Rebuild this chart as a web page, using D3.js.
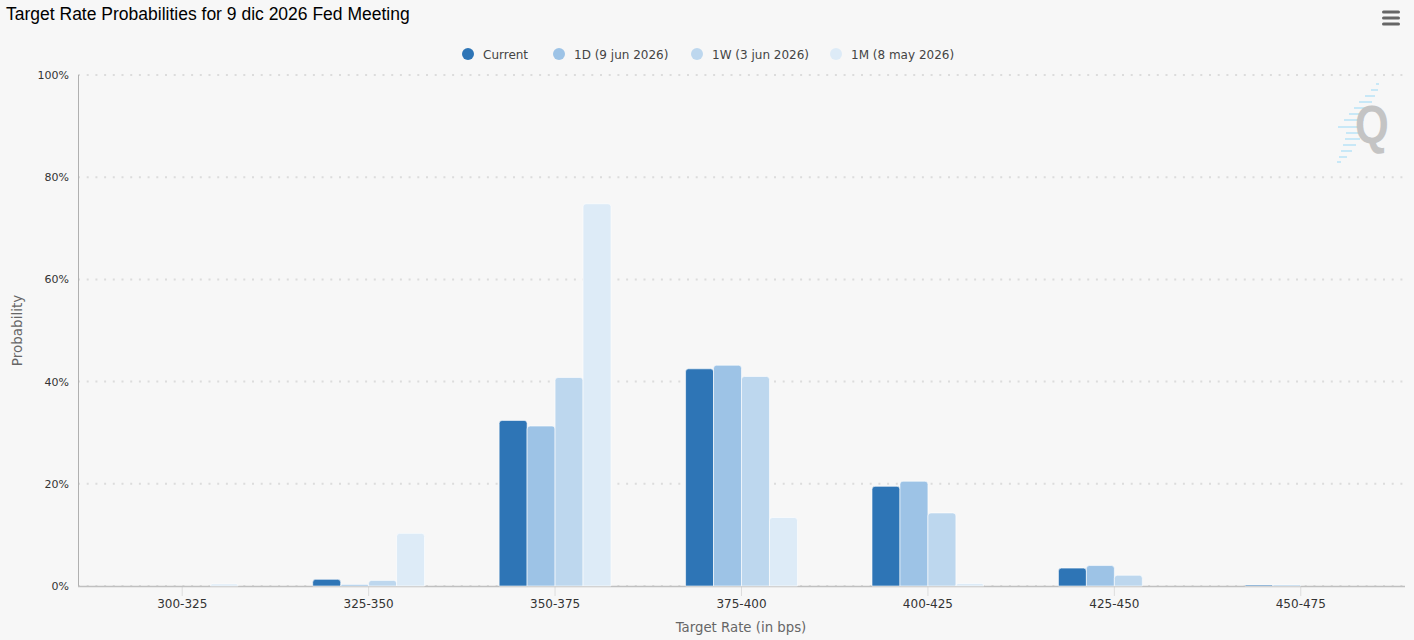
<!DOCTYPE html>
<html>
<head>
<meta charset="utf-8">
<script src="https://cdn.jsdelivr.net/npm/d3@7/dist/d3.min.js"></script>
<style>
  html, body { margin: 0; padding: 0; background: #f7f7f7; }
  svg { display: block; }
</style>
</head>
<body>
<svg id="chart" width="1414" height="640"></svg>
<script>
// ---- Data ----
const categories = ["300-325", "325-350", "350-375", "375-400", "400-425", "425-450", "450-475"];
const seriesNames = ["Current", "1D (9 jun 2026)", "1W (3 jun 2026)", "1M (8 may 2026)"];
const seriesColors = ["#2e75b6", "#9dc3e6", "#bdd7ee", "#ddebf7"];
const currentValues = [0, 1.3, 32.4, 42.5, 19.5, 3.5, 0.2];
const oneDayValues = [0, 0.3, 31.3, 43.2, 20.5, 4.0, 0.2];
const oneWeekValues = [0, 1.1, 40.8, 41.0, 14.3, 2.1, 0];
const oneMonthValues = [0.4, 10.3, 74.8, 13.4, 0.5, 0, 0];
const yTicks = [0, 20, 40, 60, 80, 100];
const titleText = "Target Rate Probabilities for 9 dic 2026 Fed Meeting";
const xTitle = "Target Rate (in bps)";
const yTitle = "Probability";

const seriesValues = [currentValues, oneDayValues, oneWeekValues, oneMonthValues];

// ---- Layout ----
const svg = d3.select("#chart");
const plotLeft = 78, plotRight = 1405, plotTop = 75, plotBottom = 586;
const font = "'DejaVu Sans', 'Open Sans', sans-serif";

svg.append("rect").attr("width", 1414).attr("height", 640).attr("fill", "#f7f7f7");

const x = d3.scaleBand().domain(categories).range([plotLeft + 11, plotRight - 11]).padding(0);
const y = d3.scaleLinear().domain([0, 100]).range([plotBottom, plotTop]);
const step = x.bandwidth();
const xs = d3.scaleBand().domain(seriesNames).range([0, step * 0.6]).padding(0);

// Title
svg.append("text").attr("x", 6).attr("y", 20)
  .attr("font-family", "'Liberation Sans', Arial, sans-serif").attr("font-size", 17.5)
  .attr("fill", "#000").text(titleText);

// Hamburger menu
[0, 6, 12].forEach(d => {
  svg.append("rect").attr("x", 1382).attr("y", 10.5 + d).attr("width", 18).attr("height", 3)
    .attr("rx", 1.5).attr("fill", "#666");
});

// Legend
const legendX = [468, 559, 697, 836];
seriesNames.forEach((name, i) => {
  svg.append("circle").attr("cx", legendX[i]).attr("cy", 54).attr("r", 6).attr("fill", seriesColors[i]);
  svg.append("text").attr("x", legendX[i] + 15).attr("y", 58.5)
    .attr("font-family", font).attr("font-size", 12).attr("fill", "#444").text(name);
});

// Gridlines
const grid = svg.append("g");
grid.selectAll("line").data(yTicks).join("line")
  .attr("x1", plotLeft).attr("x2", plotRight)
  .attr("y1", d => y(d)).attr("y2", d => y(d))
  .attr("stroke", "#dcdcdc").attr("stroke-width", 2)
  .attr("stroke-dasharray", "2,6.7");

// Y axis line
svg.append("line").attr("x1", plotLeft + 0.5).attr("x2", plotLeft + 0.5)
  .attr("y1", plotTop).attr("y2", plotBottom).attr("stroke", "#b0b0b0").attr("stroke-width", 1);

// Y axis labels
const yAxis = d3.axisLeft(y).tickValues(yTicks).tickFormat(d => d + "%").tickSize(0).tickPadding(0);
const yg = svg.append("g").attr("transform", `translate(${plotLeft - 9},0)`).call(yAxis);
yg.select(".domain").remove();
yg.selectAll("text").attr("font-family", font).attr("font-size", 11).attr("fill", "#333");

// Y title
svg.append("text").attr("transform", `translate(22,${(plotTop + plotBottom) / 2 + 0}) rotate(-90)`)
  .attr("text-anchor", "middle").attr("font-family", font).attr("font-size", 13.5)
  .attr("fill", "#666").text(yTitle);

// X axis ticks and labels
const xAxis = d3.axisBottom(x).tickSize(0).tickPadding(0);
const xg = svg.append("g").attr("transform", `translate(0,${plotBottom})`).call(xAxis);
xg.select(".domain").remove();
xg.selectAll(".tick").append("line").attr("y1", 0).attr("y2", 10).attr("stroke", "#ddd").attr("stroke-width", 1);
xg.selectAll("text").attr("y", 13).attr("dy", "0.71em")
  .attr("font-family", font).attr("font-size", 12).attr("fill", "#333");

// X title
svg.append("text").attr("x", (x.range()[0] + x.range()[1]) / 2 - 0.5).attr("y", 632)
  .attr("text-anchor", "middle").attr("font-family", font).attr("font-size", 13.3)
  .attr("fill", "#666").text(xTitle);

// Q logo watermark (decoration)
const logoLines = [
  [84, 1376, 1379], [90, 1371, 1378], [96, 1365, 1375], [102, 1359, 1372],
  [108, 1354, 1369], [114, 1349, 1366], [120, 1344, 1364], [127, 1338, 1362],
  [133, 1346, 1362], [139, 1345, 1360], [145, 1343, 1356], [151, 1341, 1352],
  [157, 1339, 1347], [162, 1337, 1341]
];
const logo = svg.append("g");
logo.selectAll("line").data(logoLines).join("line")
  .attr("x1", d => d[1]).attr("x2", d => d[2]).attr("y1", d => d[0]).attr("y2", d => d[0])
  .attr("stroke", "#c2e6f6").attr("stroke-width", 1.8);
logo.append("text").attr("transform", "translate(1355,143) scale(0.82,1)")
  .attr("font-family", "'Liberation Sans', Arial, sans-serif")
  .attr("font-weight", "bold").attr("font-size", 53).attr("fill", "#c4c4c4").text("Q");

// X axis line
svg.append("line").attr("x1", plotLeft).attr("x2", plotRight)
  .attr("y1", plotBottom + 0.5).attr("y2", plotBottom + 0.5)
  .attr("stroke", "#c0c0c0").attr("stroke-width", 1.5);

// Bars
function barPath(x0, y0, w, h, r) {
  r = Math.min(r, h, w / 2);
  if (h <= 0) return "";
  return `M${x0},${y0 + h} L${x0},${y0 + r} Q${x0},${y0} ${x0 + r},${y0} L${x0 + w - r},${y0} Q${x0 + w},${y0} ${x0 + w},${y0 + r} L${x0 + w},${y0 + h} Z`;
}
const bars = svg.append("g");
seriesNames.forEach((name, si) => {
  bars.append("g").selectAll("path").data(seriesValues[si].map((v, ci) => ({ v, c: categories[ci] })))
    .join("path")
    .attr("d", d => {
      const x0 = x(d.c) + step * 0.2 + xs(name);
      const top = y(d.v);
      return barPath(x0, top, xs.bandwidth(), y(0) - top, 3);
    })
    .attr("fill", seriesColors[si])
    .attr("stroke", "#ffffff").attr("stroke-width", 1).attr("stroke-opacity", 0.6);
});
</script>
</body>
</html>
